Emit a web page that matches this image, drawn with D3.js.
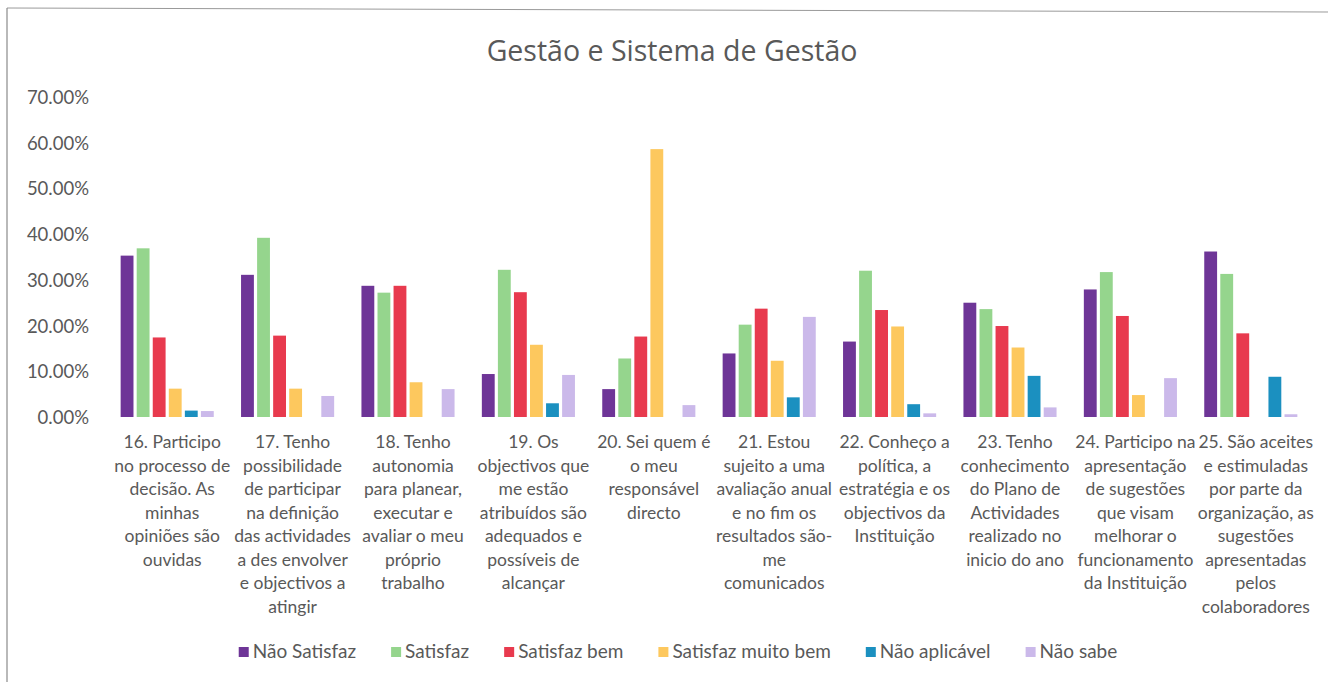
<!DOCTYPE html>
<html>
<head>
<meta charset="utf-8">
<script src="https://cdn.jsdelivr.net/npm/d3@7"></script>
<style>
  html, body { margin: 0; padding: 0; background: #fff; }
  svg { display: block; }
  text { font-family: Lato, "Open Sans", sans-serif; fill: #595959; }
</style>
</head>
<body>
<svg id="chart" width="1328" height="682"></svg>
<script>
const title = "Gestão e Sistema de Gestão";

const categories = [
  "16. Participo\nno processo de\ndecisão. As\nminhas\nopiniões são\nouvidas",
  "17. Tenho\npossibilidade\nde participar\nna definição\ndas actividades\na des envolver\ne objectivos a\natingir",
  "18. Tenho\nautonomia\npara planear,\nexecutar e\navaliar o meu\npróprio\ntrabalho",
  "19. Os\nobjectivos que\nme estão\natribuídos são\nadequados e\npossíveis de\nalcançar",
  "20. Sei quem é\no meu\nresponsável\ndirecto",
  "21. Estou\nsujeito a uma\navaliação anual\ne no fim os\nresultados são-\nme\ncomunicados",
  "22. Conheço a\npolítica, a\nestratégia e os\nobjectivos da\nInstituição",
  "23. Tenho\nconhecimento\ndo Plano de\nActividades\nrealizado no\ninicio do ano",
  "24. Participo na\napresentação\nde sugestões\nque visam\nmelhorar o\nfuncionamento\nda Instituição",
  "25. São aceites\ne estimuladas\npor parte da\norganização, as\nsugestões\napresentadas\npelos\ncolaboradores"
];

const seriesNames = ["Não Satisfaz", "Satisfaz", "Satisfaz bem", "Satisfaz muito bem", "Não aplicável", "Não sabe"];
const seriesColors = ["#6e3597", "#95d58d", "#e83a4e", "#fdc85e", "#1b90c0", "#cbb9ea"];

// values in percent, one array per series (order follows categories 16..25)
const naoSatisfaz      = [35.3, 31.1, 28.7,  9.4,  6.1, 13.9, 16.5, 25.0, 27.9, 36.2];
const satisfaz         = [36.9, 39.2, 27.2, 32.2, 12.8, 20.2, 32.0, 23.6, 31.7, 31.3];
const satisfazBem      = [17.4, 17.8, 28.7, 27.3, 17.6, 23.7, 23.4, 19.9, 22.1, 18.3];
const satisfazMuitoBem = [ 6.2,  6.2,  7.6, 15.8, 58.6, 12.3, 19.8, 15.2,  4.8,  0.0];
const naoAplicavel     = [ 1.4,  0.0,  0.0,  3.0,  0.0,  4.3,  2.8,  9.0,  0.0,  8.8];
const naoSabe          = [ 1.3,  4.6,  6.1,  9.2,  2.6, 21.9,  0.8,  2.1,  8.5,  0.6];

const yTicks = [0, 10, 20, 30, 40, 50, 60, 70];

const seriesValues = [naoSatisfaz, satisfaz, satisfazBem, satisfazMuitoBem, naoAplicavel, naoSabe];

const svg = d3.select("#chart");

// frame lines (top and left)
svg.append("line").attr("x1", 7).attr("y1", 8).attr("x2", 1328).attr("y2", 12)
  .attr("stroke", "#9a9a9a").attr("stroke-width", 1);
svg.append("line").attr("x1", 7).attr("y1", 8).attr("x2", 7).attr("y2", 682)
  .attr("stroke", "#8a8a8a").attr("stroke-width", 1.2);

// title
svg.append("text")
  .attr("x", 672).attr("y", 61)
  .attr("text-anchor", "middle")
  .style("font-family", "'Open Sans', sans-serif")
  .style("font-size", "28.5px")
  .text(title);

const x0 = d3.scaleBand().domain(d3.range(categories.length))
  .range([107, 1311]).paddingInner(0.2).paddingOuter(0.1);
const x1 = d3.scaleBand().domain(d3.range(seriesNames.length))
  .range([0, x0.bandwidth()]).paddingInner(0.2).paddingOuter(0.1);
const y = d3.scaleLinear().domain([0, 70]).range([417, 97]);

// y axis labels
const yAxis = d3.axisLeft(y).tickValues(yTicks).tickSize(0).tickPadding(0)
  .tickFormat(d => d.toFixed(2) + "%");
const yg = svg.append("g").attr("transform", "translate(89,0)").call(yAxis);
yg.select(".domain").remove();
yg.selectAll("text").style("font-size", "18.5px").style("font-family", "Lato, sans-serif")
  .attr("fill", "#595959").attr("dy", "0.35em");

// bars
const groups = svg.append("g").selectAll("g")
  .data(categories.map((c, i) => i))
  .join("g")
  .attr("transform", i => `translate(${x0(i)},0)`);

groups.selectAll("rect")
  .data(i => seriesValues.map((arr, s) => ({ s, v: arr[i] })))
  .join("rect")
  .attr("x", d => x1(d.s))
  .attr("width", x1.bandwidth())
  .attr("y", d => y(d.v))
  .attr("height", d => y(0) - y(d.v))
  .attr("fill", d => seriesColors[d.s]);

// category labels
const lab = svg.append("g");
categories.forEach((c, i) => {
  const cx = x0(i) + x0.bandwidth() / 2 + 5;
  const t = lab.append("text")
    .attr("text-anchor", "middle")
    .style("font-size", "17.5px");
  c.split("\n").forEach((line, k) => {
    t.append("tspan").attr("x", cx).attr("y", 448 + k * 23.5).text(line);
  });
});

// legend
const legend = svg.append("g");
const legFont = 19;
let widths = [];
seriesNames.forEach((n) => {
  const tmp = legend.append("text").style("font-size", legFont + "px").text(n);
  widths.push(tmp.node().getComputedTextLength());
  tmp.remove();
});
const sq = 10, sqGap = 4, itemGap = 35;
const total = d3.sum(widths) + seriesNames.length * (sq + sqGap) + (seriesNames.length - 1) * itemGap;
let lx = 678 - total / 2;
seriesNames.forEach((n, s) => {
  legend.append("rect").attr("x", lx).attr("y", 647).attr("width", sq).attr("height", sq)
    .attr("fill", seriesColors[s]);
  legend.append("text").attr("x", lx + sq + sqGap).attr("y", 658)
    .style("font-size", legFont + "px").text(n);
  lx += sq + sqGap + widths[s] + itemGap;
});
</script>
</body>
</html>
